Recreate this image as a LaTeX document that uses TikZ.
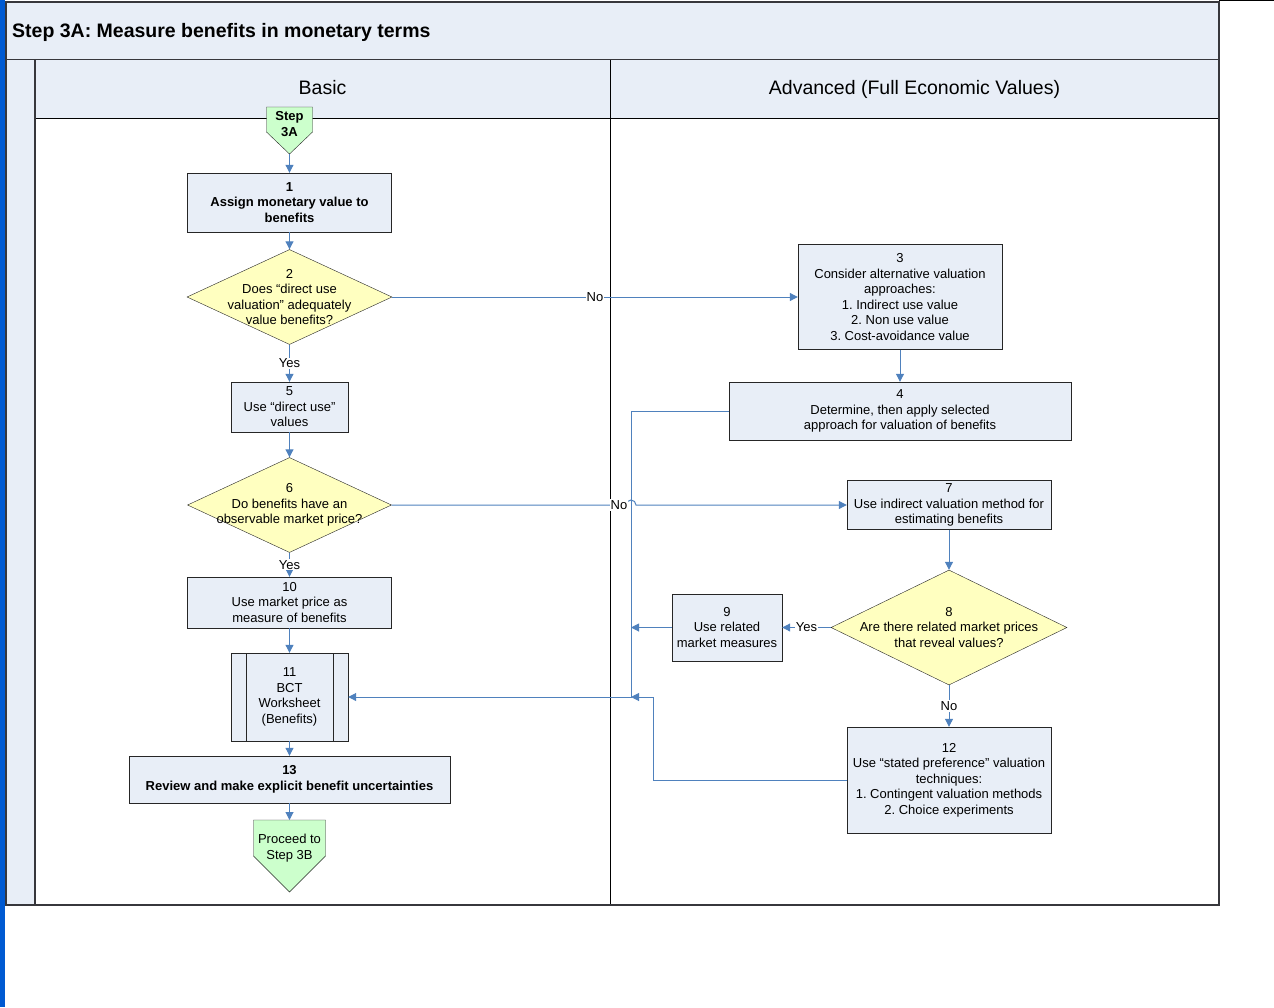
\documentclass[tikz,border=0pt]{standalone}
\usepackage{fontspec}
\setmainfont{Liberation Sans}
\usetikzlibrary{shapes.geometric,arrows.meta}
\frenchspacing

\definecolor{boxfill}{RGB}{232,238,247}
\definecolor{decfill}{RGB}{255,255,192}
\definecolor{termfill}{RGB}{204,255,204}
\definecolor{flow}{RGB}{79,129,189}
\definecolor{framegray}{RGB}{55,55,60}
\definecolor{sidebar}{RGB}{0,90,210}

\tikzset{
  every node/.style={font=\fontsize{13}{15.5}\selectfont},
  bold/.style={font=\fontsize{13}{15.5}\selectfont\bfseries},
  proc/.style={draw=black!85, fill=boxfill, align=center, inner sep=0pt},
  dec/.style={diamond, draw=black!85, fill=decfill, inner sep=0pt},
  term/.style={draw=black!85, fill=termfill},
  txt/.style={align=center, inner sep=0pt},
  lanehead/.style={font=\fontsize{19.5}{22}\selectfont, anchor=base, inner sep=0pt},
  flowline/.style={draw=flow, line width=1pt, -{Triangle[length=8pt,width=8pt]}},
  lbl/.style={fill=white, inner sep=1pt},
}

\begin{document}
\begin{tikzpicture}[x=1pt,y=-1pt]
  \useasboundingbox (0,0) rectangle (1274,1007);

  % frame and swimlanes
  \fill[sidebar] (0,0) rectangle (5,1007);
  \draw[black, line width=1pt] (1219,0.5) -- (1274,0.5);
  \filldraw[fill=boxfill, draw=framegray, line width=1.5pt] (6,2) rectangle (1219,59.5);
  \fill[boxfill] (6,60) rectangle (1219,118);
  \fill[boxfill] (6,60) rectangle (35,905);
  \draw[black, line width=0.8pt] (35,118) -- (1219,118);
  \draw[black, line width=0.8pt] (610,60) -- (610,905);
  \draw[framegray, line width=1.5pt] (35,60) -- (35,905);
  \draw[framegray, line width=1.5pt] (6,2) rectangle (1219,905);
  \node[font=\fontsize{19.5}{22}\selectfont\bfseries, anchor=base west, inner sep=0pt] (title) at (12,37.5) {Step 3A: Measure benefits in monetary terms};
  \node[lanehead] (basic) at (322.5,94.5) {Basic};
  \node[lanehead] (advanced) at (914.5,94.5) {Advanced (Full Economic Values)};

  % start and end terminators
  \filldraw[term] (266.5,107) -- (312.5,107) -- (312.5,132) -- (289.5,154) -- (266.5,132) -- cycle;
  \node[txt, bold] (s3a) at (289.5,124) {Step\\3A};
  \coordinate (s3a-tip) at (289.5,154);
  \filldraw[term] (253.5,820) -- (325.5,820) -- (325.5,856) -- (289.5,892) -- (253.5,856) -- cycle;
  \node[txt] (s3b) at (289.5,848) {Proceed to\\Step 3B};
  \coordinate (s3b-top) at (289.5,820);

  % basic lane
  \node[proc, bold, minimum width=204pt, minimum height=59pt] (n1) at (289.5,202.5) {1\\Assign monetary value to\\benefits};
  \node[dec, minimum width=205pt, minimum height=95pt] (d2) at (289.5,297) {};
  \node[txt] (t2) at (d2) {2\\Does “direct use\\valuation” adequately\\value benefits?};
  \node[proc, minimum width=117pt, minimum height=50pt] (n5) at (289.5,407) {5\\Use “direct use”\\values};
  \node[dec, minimum width=204pt, minimum height=95pt] (d6) at (289.5,505) {};
  \node[txt] (t6) at (d6) {6\\Do benefits have an\\observable market price?};
  \node[proc, minimum width=204pt, minimum height=51pt] (n10) at (289.5,602.5) {10\\Use market price as\\measure of benefits};
  \node[proc, minimum width=117pt, minimum height=88pt,
    path picture={
      \draw[black!85] ([xshift=15pt]path picture bounding box.north west) -- ([xshift=15pt]path picture bounding box.south west);
      \draw[black!85] ([xshift=-15pt]path picture bounding box.north east) -- ([xshift=-15pt]path picture bounding box.south east);
    }] (n11) at (289.5,697) {11\\BCT\\Worksheet\\(Benefits)};
  \node[proc, bold, minimum width=321pt, minimum height=47pt] (n13) at (289.5,779.5) {13\\Review and make explicit benefit uncertainties};

  % advanced lane
  \node[proc, minimum width=204pt, minimum height=105pt] (n3) at (900,297) {3\\Consider alternative valuation\\approaches:\\1. Indirect use value\\2. Non use value\\3. Cost-avoidance value};
  \node[proc, minimum width=342pt, minimum height=58pt] (n4) at (900,411) {4\\Determine, then apply selected\\approach for valuation of benefits};
  \node[proc, minimum width=204pt, minimum height=49pt] (n7) at (949,505) {7\\Use indirect valuation method for\\estimating benefits};
  \node[dec, minimum width=236pt, minimum height=115pt] (d8) at (949,627.5) {};
  \node[txt] (t8) at (d8) {8\\Are there related market prices\\that reveal values?};
  \node[proc, minimum width=110pt, minimum height=67pt] (n9) at (727,627.5) {9\\Use related\\market measures};
  \node[proc, minimum width=204pt, minimum height=106pt] (n12) at (949,780) {12\\Use “stated preference” valuation\\techniques:\\1. Contingent valuation methods\\2. Choice experiments};

  \coordinate (bus-join) at (631,697);
  \coordinate (n12-bend) at (653,697);

  % connectors
  \draw[flowline] (s3a-tip) -- (n1);
  \draw[flowline] (n1) -- (d2);
  \draw[flowline] (d2.east) -- (n3.west) node[midway, lbl] (no2) {No};
  \draw[flowline] (d2.south) -- (n5.north) node[midway, lbl] (yes2) {Yes};
  \draw[flowline] (n5) -- (d6);
  \draw[flowline] (d6.east) -- (626,505) arc[start angle=180, end angle=0, radius=5pt] -- (n7.west);
  \node[lbl] (no6) at (619,505) {No};
  \draw[flowline] (d6.south) -- (n10.north) node[midway, lbl] (yes6) {Yes};
  \draw[flowline] (n10) -- (n11);
  \draw[flowline] (n11) -- (n13);
  \draw[flowline] (n13) -- (s3b-top);

  \draw[flowline] (n3) -- (n4);
  \draw[flowline] (n4.west) -| (bus-join) -- (n11.east);
  \draw[flowline] (n7) -- (d8);
  \draw[flowline] (d8.west) -- (n9.east) node[midway, lbl] (yes8) {Yes};
  \draw[flowline] (n9.west) -- (n9.west -| bus-join);
  \draw[flowline] (d8.south) -- (n12.north) node[midway, lbl] (no8) {No};
  \draw[flowline] (n12.west) -| (n12-bend) -- (bus-join);
\end{tikzpicture}
\end{document}
